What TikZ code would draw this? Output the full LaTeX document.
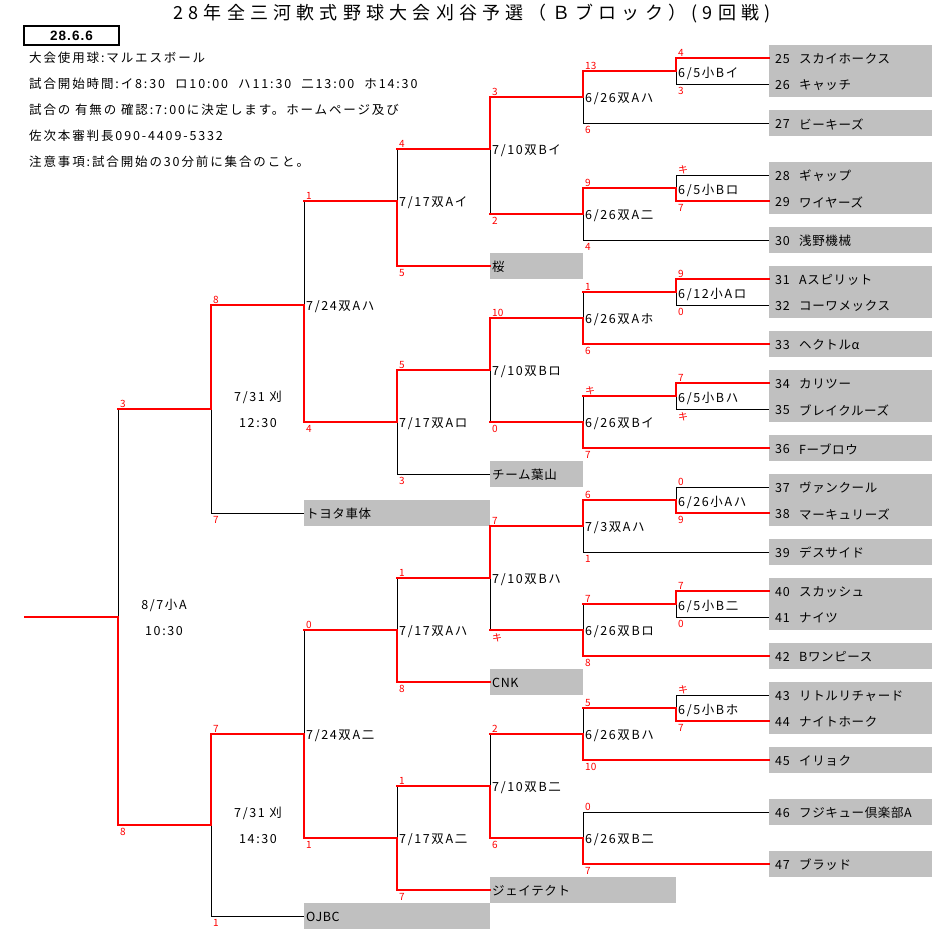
\documentclass[tikz,border=0pt]{standalone}
\usepackage{fontspec}
\setmainfont{Noto Sans CJK JP}
\newfontfamily\titlefont[LetterSpace=29]{Noto Sans CJK JP}
\newfontfamily\hdrfont[LetterSpace=15]{Noto Sans CJK JP}
\newfontfamily\mfont[LetterSpace=13]{Noto Sans CJK JP}
\newfontfamily\tfont[LetterSpace=5]{Noto Sans CJK JP}
\newfontfamily\latinfont[LetterSpace=8]{Liberation Sans}
\definecolor{boxgray}{RGB}{192,192,192}
\definecolor{wred}{RGB}{255,0,0}
\tikzset{
  win/.style={draw=wred, line width=2pt, line cap=rect},
  lose/.style={draw=black, line width=0.8pt},
  sc/.style={text=wred, font=\fontsize{10}{10}\selectfont, inner sep=0pt},
  scT/.style={sc, anchor=south west},
  scB/.style={sc, anchor=north west},
  lbl/.style={font=\mfont\fontsize{12.5}{13}\selectfont, inner sep=0pt, anchor=west},
  team/.style={font=\tfont\fontsize{12.5}{13}\selectfont, inner sep=0pt, anchor=west},
  ctr/.style={font=\mfont\fontsize{12.5}{13}\selectfont, inner sep=0pt, anchor=center},
  hdr/.style={font=\hdrfont\fontsize{12.5}{13}\selectfont, inner sep=0pt, anchor=west},
  tbox/.style={fill=boxgray, draw=none},
}
\begin{document}
\begin{tikzpicture}[x=1pt,y=-1pt]
\useasboundingbox (0,0) rectangle (932,948);
% gray boxes
\foreach \a/\b/\c/\d in {769/45/932/97, 769/110/932/136, 769/162/932/214, 769/227/932/253,
  769/266/932/318, 769/331/932/357, 769/370/932/422, 769/435/932/461, 769/474/932/526,
  769/539/932/565, 769/578/932/630, 769/643/932/669, 769/682/932/734, 769/747/932/773,
  769/799/932/825, 769/851/932/877,
  490/253/583/279, 490/461/583/487, 490/669/583/695, 490/877/676/903,
  304/500/490/526, 304/903/490/929}
  \fill[tbox] (\a,\b) rectangle (\c,\d);
% title
\node[font=\titlefont\fontsize{18}{18}\selectfont, inner sep=0pt] (title) at (472,14)
  {28年全三河軟式野球大会刈谷予選（Ｂブロック）(9回戦)};
% date box
\node[draw, line width=1.5pt, minimum width=95pt, minimum height=19pt, inner sep=0pt,
  font=\latinfont\bfseries\fontsize{13.5}{13.5}\selectfont] (date) at (71.5,35.5) {28.6.6};
% header
\node[hdr] (h1) at (29,58) {大会使用球:マルエスボール};
\node[hdr] (h2) at (29,84) {試合開始時間:イ8:30\hspace{10pt}ロ10:00\hspace{10pt}ハ11:30\hspace{10pt}二13:00\hspace{10pt}ホ14:30};
\node[hdr] (h3) at (29,110) {試合の 有無の 確認:7:00に決定します。ホームページ及び};
\node[hdr] (h4) at (29,136) {佐次本審判長090-4409-5332};
\node[hdr] (h5) at (29,162) {注意事項:試合開始の30分前に集合のこと。};
% black horizontals
\foreach \a/\b/\y in {676/769/84, 676/769/175, 676/769/305, 676/769/409, 676/769/487,
  676/769/617, 676/769/695, 583/769/123, 583/769/240, 583/769/552, 583/769/812,
  397/490/474, 211/304/513, 211/304/916}
  \draw[lose] (\a,\y) -- (\b,\y);
% black verticals
\foreach \x/\a/\b in {676/71/84, 676/175/188, 676/292/305, 676/396/409, 676/487/500,
  676/604/617, 676/695/708,
  583/97/123, 583/214/240, 583/292/318, 583/396/422, 583/526/552, 583/604/630,
  583/708/734, 583/812/838,
  490/149/214, 490/370/422, 490/578/630, 490/734/786,
  397/149/201, 397/422/474, 397/578/630, 397/786/838,
  304/201/305, 304/630/734, 211/409/513, 211/825/916, 118/409/617}
  \draw[lose] (\x,\a) -- (\x,\b);
% red horizontals
\foreach \a/\b/\y in {676/769/58, 676/769/201, 676/769/279, 676/769/383, 676/769/513,
  676/769/591, 676/769/721,
  583/676/71, 583/676/188, 583/676/292, 583/676/396, 583/676/500, 583/676/604, 583/676/708,
  583/769/344, 583/769/448, 583/769/656, 583/769/760, 583/769/864,
  490/583/97, 490/583/214, 490/583/318, 490/583/422, 490/583/526, 490/583/630,
  490/583/734, 490/583/838,
  397/490/149, 397/490/266, 397/490/370, 397/490/578, 397/490/682, 397/490/786, 397/490/890,
  304/397/201, 304/397/422, 304/397/630, 304/397/838,
  211/304/305, 211/304/734, 118/211/409, 118/211/825, 25/118/617}
  \draw[win] (\a,\y) -- (\b,\y);
% red verticals
\foreach \x/\a/\b in {676/58/71, 676/188/201, 676/279/292, 676/383/396, 676/500/513,
  676/591/604, 676/708/721,
  583/71/97, 583/188/214, 583/318/344, 583/422/448, 583/500/526, 583/630/656,
  583/734/760, 583/838/864,
  490/97/149, 490/318/370, 490/526/578, 490/786/838,
  397/201/266, 397/370/422, 397/630/682, 397/838/890,
  304/305/422, 304/734/838, 211/305/409, 211/734/825, 118/617/825}
  \draw[win] (\x,\a) -- (\x,\b);
% teams
\foreach \n/\nm/\y in {25/スカイホークス/58, 26/キャッチ/84, 27/ビーキーズ/123,
  28/ギャップ/175, 29/ワイヤーズ/201, 30/浅野機械/240, 31/Aスピリット/279,
  32/コーワメックス/305, 33/ヘクトルα/344, 34/カリツー/383, 35/ブレイクルーズ/409,
  36/Fーブロウ/448, 37/ヴァンクール/487, 38/マーキュリーズ/513, 39/デスサイド/552,
  40/スカッシュ/591, 41/ナイツ/617, 42/Bワンピース/656, 43/リトルリチャード/695,
  44/ナイトホーク/721, 45/イリョク/760, 46/フジキュー倶楽部A/812, 47/ブラッド/864}
  {\node[team] (tn\n) at (775,\y+1) {\n};
   \node[team] (t\n) at (799,\y+1) {\nm};}
\node[team] (sakura) at (492,267) {桜};
\node[team] (hayama) at (492,475) {チーム葉山};
\node[team] (cnk) at (492,683) {CNK};
\node[team] (jtekt) at (492,891) {ジェイテクト};
\node[team] (toyota) at (306,514) {トヨタ車体};
\node[team] (ojbc) at (306,917) {OJBC};
% match labels
\node[lbl] (m1) at (678,73) {6/5小Bイ};
\node[lbl] (m2) at (678,190) {6/5小Bロ};
\node[lbl] (m3) at (678,294) {6/12小Aロ};
\node[lbl] (m4) at (678,398) {6/5小Bハ};
\node[lbl] (m5) at (678,502) {6/26小Aハ};
\node[lbl] (m6) at (678,606) {6/5小B二};
\node[lbl] (m7) at (678,710) {6/5小Bホ};
\node[lbl] (n1) at (585,99) {6/26双Aハ};
\node[lbl] (n2) at (585,216) {6/26双A二};
\node[lbl] (n3) at (585,320) {6/26双Aホ};
\node[lbl] (n4) at (585,424) {6/26双Bイ};
\node[lbl] (n5) at (585,528) {7/3双Aハ};
\node[lbl] (n6) at (585,632) {6/26双Bロ};
\node[lbl] (n7) at (585,736) {6/26双Bハ};
\node[lbl] (n8) at (585,840) {6/26双B二};
\node[lbl] (p1) at (492,151) {7/10双Bイ};
\node[lbl] (p2) at (492,372) {7/10双Bロ};
\node[lbl] (p3) at (492,580) {7/10双Bハ};
\node[lbl] (p4) at (492,788) {7/10双B二};
\node[lbl] (q1) at (399,203) {7/17双Aイ};
\node[lbl] (q2) at (399,424) {7/17双Aロ};
\node[lbl] (q3) at (399,632) {7/17双Aハ};
\node[lbl] (q4) at (399,840) {7/17双A二};
\node[lbl] (r1) at (306,307) {7/24双Aハ};
\node[lbl] (r2) at (306,736) {7/24双A二};
\node[ctr] (s1a) at (258,397) {7/31 刈};
\node[ctr] (s1b) at (258,423) {12:30};
\node[ctr] (s2a) at (258,813) {7/31 刈};
\node[ctr] (s2b) at (258,839) {14:30};
\node[ctr] (fa) at (164,605) {8/7小A};
\node[ctr] (fb) at (164,631) {10:30};
% scores (top)
\foreach \x/\y/\s [count=\i] in {676/58/4, 676/175/キ, 676/279/9, 676/383/7, 676/487/0,
  676/591/7, 676/695/キ,
  583/71/13, 583/188/9, 583/292/1, 583/396/キ, 583/500/6, 583/604/7, 583/708/5, 583/812/0,
  490/97/3, 490/318/10, 490/526/7, 490/734/2,
  397/149/4, 397/370/5, 397/578/1, 397/786/1,
  304/201/1, 304/630/0, 211/305/8, 211/734/7, 118/409/3}
  \node[scT] (st\i) at (\x+2,\y-1) {\s};
% scores (bottom)
\foreach \x/\y/\s [count=\i] in {676/84/3, 676/201/7, 676/305/0, 676/409/キ, 676/513/9,
  676/617/0, 676/721/7,
  583/123/6, 583/240/4, 583/344/6, 583/448/7, 583/552/1, 583/656/8, 583/760/10, 583/864/7,
  490/214/2, 490/422/0, 490/630/キ, 490/838/6,
  397/266/5, 397/474/3, 397/682/8, 397/890/7,
  304/422/4, 304/838/1, 211/513/7, 211/916/1, 118/825/8}
  \node[scB] (sb\i) at (\x+2,\y+3) {\s};
\end{tikzpicture}
\end{document}
